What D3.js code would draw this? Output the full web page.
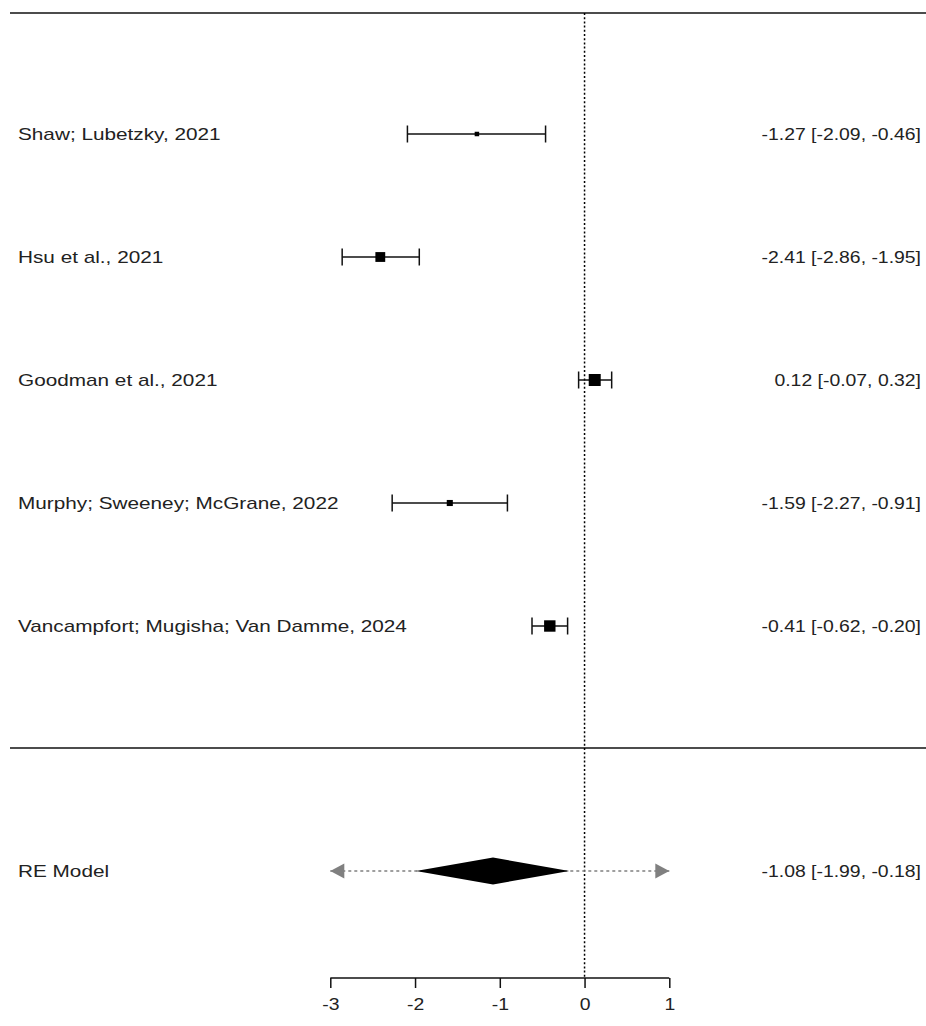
<!DOCTYPE html>
<html><head><meta charset="utf-8">
<script src="https://cdn.jsdelivr.net/npm/d3@7"></script>
<style>body{margin:0;background:#fff}svg{display:block}text{font-family:Arial,"Liberation Sans",sans-serif;fill:#222}</style>
</head><body>
<svg id="c" width="926" height="1026"></svg>
<script>
const studies = ["Shaw; Lubetzky, 2021","Hsu et al., 2021","Goodman et al., 2021","Murphy; Sweeney; McGrane, 2022","Vancampfort; Mugisha; Van Damme, 2024"];
const estimates = [-1.27,-2.41,0.12,-1.59,-0.41];
const lowers = [-2.09,-2.86,-0.07,-2.27,-0.62];
const uppers = [-0.46,-1.95,0.32,-0.91,-0.20];
const weights = [17.8,20.5,21.6,18.6,21.3];
const model = {label:"RE Model", est:-1.08, lo:-1.99, hi:-0.18, piLo:-3.55, piHi:1.39};
const xTicks = [-3,-2,-1,0,1];

const svg = d3.select("#c");
const W=926, FS=17, STRETCH=1.14, STRETCH_L=1.22;
const x = d3.scaleLinear().domain([-3,1]).range([330.3,669.3]);
const y = d3.scaleLinear().domain([0,4]).range([134,626]);
const yModel = 871, yTop = 13, yMid = 748, yAxis = 978;
const sz = d3.scaleLinear().domain(d3.extent(weights)).range([4.5,12]);
const fmtAbs = v => d3.format(".2f")(v).replace("−","-");
function ciText(e,l,h){
  return fmtAbs(e)+" ["+fmtAbs(l)+", "+(h>=0?" ":"")+fmtAbs(h)+"]";
}
function stretch(sel,f){
  f = f||STRETCH;
  sel.each(function(){const L=this.getComputedTextLength(); d3.select(this).attr("textLength",L*f).attr("lengthAdjust","spacingAndGlyphs");});
}

// horizontal rules
svg.append("line").attr("x1",10).attr("x2",W).attr("y1",yTop).attr("y2",yTop).attr("stroke","#111").attr("stroke-width",1.6);
svg.append("line").attr("x1",10).attr("x2",W).attr("y1",yMid).attr("y2",yMid).attr("stroke","#111").attr("stroke-width",1.6);
// reference line at 0
svg.append("line").attr("x1",x(0)).attr("x2",x(0)).attr("y1",yTop).attr("y2",yAxis)
  .attr("stroke","#000").attr("stroke-width",1.5).attr("stroke-dasharray","2,2.2");

const data = studies.map((s,i)=>({s,e:estimates[i],l:lowers[i],h:uppers[i],w:weights[i],i}));
const g = svg.append("g");
g.selectAll("line.ci").data(data).join("line").attr("class","ci")
  .attr("x1",d=>x(d.l)).attr("x2",d=>x(d.h)).attr("y1",d=>y(d.i)).attr("y2",d=>y(d.i))
  .attr("stroke","#111").attr("stroke-width",1.5);
["l","h"].forEach(k=>{
  g.selectAll("line.cap"+k).data(data).join("line").attr("class","cap"+k)
   .attr("x1",d=>x(d[k])).attr("x2",d=>x(d[k])).attr("y1",d=>y(d.i)-8.5).attr("y2",d=>y(d.i)+8.5)
   .attr("stroke","#111").attr("stroke-width",1.5);
});
g.selectAll("rect").data(data).join("rect")
  .attr("x",d=>x(d.e)-sz(d.w)/2).attr("y",d=>y(d.i)-sz(d.w)/2)
  .attr("width",d=>sz(d.w)).attr("height",d=>sz(d.w)).attr("fill","#000");

g.selectAll("text.lab").data(data).join("text").attr("class","lab")
  .attr("x",18).attr("y",d=>y(d.i)).attr("dy","0.35em").attr("font-size",FS).text(d=>d.s).call(stretch,STRETCH_L);
g.selectAll("text.val").data(data).join("text").attr("class","val")
  .attr("x",921).attr("y",d=>y(d.i)).attr("dy","0.35em").attr("text-anchor","end").attr("font-size",FS)
  .text(d=>ciText(d.e,d.l,d.h)).call(stretch);

// model: prediction interval
const [d0,d1]=x.domain();
const pl = Math.max(model.piLo,d0), ph = Math.min(model.piHi,d1);
svg.append("line").attr("x1",x(pl)).attr("x2",x(ph)).attr("y1",yModel).attr("y2",yModel)
  .attr("stroke","#808080").attr("stroke-width",1.3).attr("stroke-dasharray","3,3");
const aw=14, ah=7.5;
if(model.piLo<d0) svg.append("path").attr("d",`M${x(d0)},${yModel}L${x(d0)+aw},${yModel-ah}L${x(d0)+aw},${yModel+ah}Z`).attr("fill","#808080");
if(model.piHi>d1) svg.append("path").attr("d",`M${x(d1)},${yModel}L${x(d1)-aw},${yModel-ah}L${x(d1)-aw},${yModel+ah}Z`).attr("fill","#808080");
// diamond
svg.append("path").attr("d",`M${x(model.lo)},${yModel}L${x(model.est)},${yModel-13.5}L${x(model.hi)},${yModel}L${x(model.est)},${yModel+13.5}Z`).attr("fill","#000");
svg.append("text").attr("x",18).attr("y",yModel).attr("dy","0.35em").attr("font-size",FS).text(model.label).call(stretch,STRETCH_L);
svg.append("text").attr("x",921).attr("y",yModel).attr("dy","0.35em").attr("text-anchor","end").attr("font-size",FS)
  .text(ciText(model.est,model.lo,model.hi)).call(stretch);

// axis
const ax = svg.append("g").attr("transform",`translate(0,${yAxis})`)
  .call(d3.axisBottom(x).tickValues(xTicks).tickSize(10).tickPadding(10).tickFormat(d3.format("d")));
ax.select(".domain").attr("stroke","#111").attr("stroke-width",1.5).attr("d",`M${x(d0)},0H${x(d1)}`);
ax.selectAll(".tick line").attr("stroke","#111").attr("stroke-width",1.5);
ax.selectAll(".tick text").attr("font-size",FS).attr("font-family","Arial, 'Liberation Sans', sans-serif").attr("fill","#222")
  .text(d=>String(d)).call(stretch);
</script>
</body></html>
